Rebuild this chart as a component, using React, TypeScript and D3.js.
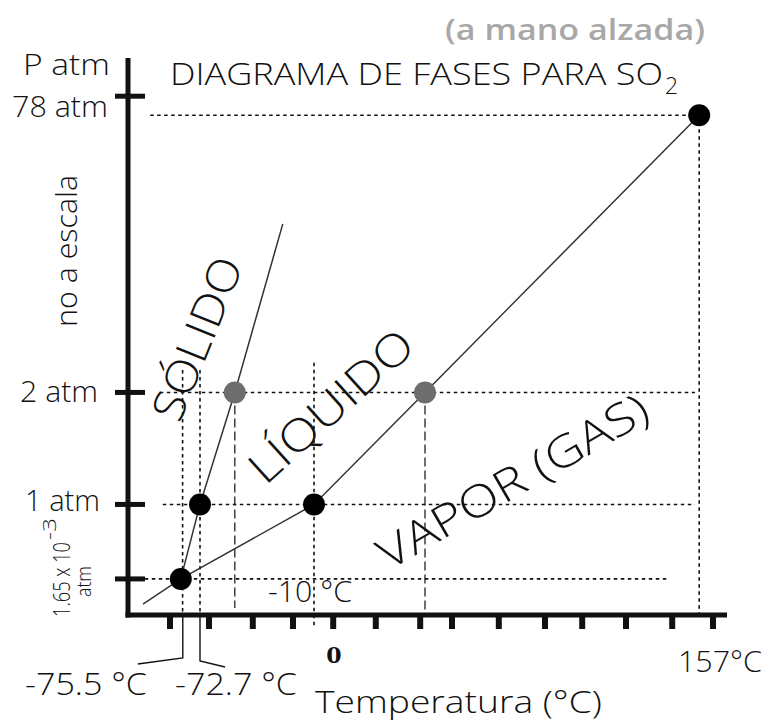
import React from "react";
import * as d3 from "d3";

// ---- Data (schematic units, diagram is "no a escala") ----
const xTickUnits = [7.0, 13.5, 20.8, 27.5, 34.2, 41.3, 48.7, 54.0, 61.8, 69.5, 75.7, 83.0, 90.7, 97.5];

const yTickLabels = ["1.65e-3", "1 atm", "2 atm", "78 atm"];
const yTickUnits = [6.8, 20.1, 40.1, 93.0];

const pointNames = ["triple", "fusion1", "fusion2", "ebull1", "ebull2", "critico"];
const pointX = [8.8, 12.0, 17.8, 31.0, 49.5, 95.2];
const pointY = [6.8, 20.1, 40.1, 20.1, 40.1, 89.6];
const pointGrey = [false, false, true, false, true, false];

// sublimation + vaporization curve
const vapCurveX = [2.5, 8.8, 31.0, 49.5, 95.2];
const vapCurveY = [2.3, 6.8, 20.1, 40.1, 89.6];
// fusion curve
const fusCurveX = [8.8, 12.0, 17.8, 25.8];
const fusCurveY = [6.8, 20.1, 40.1, 70.2];

// dotted horizontal guides: [level, from, to]
const hGuideLevel = [89.6, 40.1, 20.1, 6.8];
const hGuideFrom = [3.7, 5.3, 5.8, 2.8];
const hGuideTo = [95.2, 94.5, 94.5, 89.8];

// dotted vertical guides: [x, top, bottom]
const vGuideX = [95.2, 9.1, 12.0, 31.0];
const vGuideTop = [89.6, 44.1, 44.1, 45.4];
const vGuideBottom = [0, 0, 0, -1.8];

// dashed vertical guides
const dGuideX = [17.8, 49.5];
const dGuideTop = [40.1, 40.1];
const dGuideBottom = [1.6, 0];

const FONT = "'Open Sans', 'Noto Sans', sans-serif";

export default function App() {
  const W = 764, H = 725;
  const x = d3.scaleLinear().domain([0, 100]).range([128, 728]);
  const y = d3.scaleLinear().domain([0, 100]).range([617, 57]);
  const line = d3.line<[number, number]>().x(d => x(d[0])).y(d => y(d[1]));
  const vap = vapCurveX.map((v, i) => [v, vapCurveY[i]] as [number, number]);
  const fus = fusCurveX.map((v, i) => [v, fusCurveY[i]] as [number, number]);
  const axisY = y(0) - 2;

  return (
    <svg width={W} height={H} viewBox={`0 0 ${W} ${H}`}
      style={{ position: "absolute", left: 0, top: 0, background: "#fff" }}
      fontFamily={FONT} fontWeight={300} fill="#111">
      {/* guides */}
      {hGuideLevel.map((lv, i) => (
        <line key={"h" + i} x1={x(hGuideFrom[i])} x2={x(hGuideTo[i])} y1={y(lv)} y2={y(lv)}
          stroke="#111" strokeWidth={1.6} strokeDasharray="3.5 3.5" />
      ))}
      {vGuideX.map((vx, i) => (
        <line key={"v" + i} x1={x(vx)} x2={x(vx)} y1={y(vGuideTop[i])} y2={y(vGuideBottom[i])}
          stroke="#111" strokeWidth={1.6} strokeDasharray="3.5 3.5" />
      ))}
      {dGuideX.map((vx, i) => (
        <line key={"d" + i} x1={x(vx)} x2={x(vx)} y1={y(dGuideTop[i])} y2={y(dGuideBottom[i])}
          stroke="#222" strokeWidth={1.3} strokeDasharray="9 4" />
      ))}

      {/* leaders below axis */}
      <polyline points={`${x(pointX[0]) + 2},${axisY} ${x(pointX[0]) + 2},${axisY + 43} ${x(pointX[0]) - 43},${axisY + 49}`}
        fill="none" stroke="#111" strokeWidth={1.4} />
      <polyline points={`${x(pointX[1])},${axisY} ${x(pointX[1])},${axisY + 46} ${x(pointX[1]) + 25},${axisY + 52}`}
        fill="none" stroke="#111" strokeWidth={1.4} />

      {/* curves */}
      <path d={line(vap) || ""} fill="none" stroke="#333" strokeWidth={1.5} />
      <path d={line(fus) || ""} fill="none" stroke="#333" strokeWidth={1.5} />

      {/* axes */}
      <line x1={128} x2={128} y1={58} y2={axisY + 2.5} stroke="#111" strokeWidth={5} />
      <line x1={125.5} x2={727} y1={axisY} y2={axisY} stroke="#111" strokeWidth={5} />
      {xTickUnits.map((t, i) => (
        <line key={"xt" + i} x1={x(t)} x2={x(t)} y1={axisY} y2={axisY + 14} stroke="#111" strokeWidth={6} />
      ))}
      {yTickUnits.map((t, i) => (
        <line key={"yt" + i} x1={115} x2={145} y1={y(t)} y2={y(t)} stroke="#111" strokeWidth={5} />
      ))}

      {/* points */}
      {pointNames.map((n, i) => (
        <circle key={n} cx={x(pointX[i])} cy={y(pointY[i])} r={11}
          fill={pointGrey[i] ? "#6e6e6e" : "#000"} />
      ))}

      {/* y tick labels */}
      <text x={12} y={y(yTickUnits[3]) + 21} fontSize={29} textLength={96} lengthAdjust="spacingAndGlyphs">{yTickLabels[3]}</text>
      <text x={20} y={y(yTickUnits[2]) + 10} fontSize={29} textLength={78} lengthAdjust="spacingAndGlyphs">{yTickLabels[2]}</text>
      <text x={25} y={y(yTickUnits[1]) + 7} fontSize={29} textLength={75} lengthAdjust="spacingAndGlyphs">{yTickLabels[1]}</text>
      <g transform="translate(70,617) rotate(-90)">
        <text x={0} y={0} fontSize={23} textLength={75} lengthAdjust="spacingAndGlyphs">1.65 x 10</text>
        <text x={77} y={-14} fontSize={19} textLength={22} lengthAdjust="spacingAndGlyphs">-3</text>
        <text x={20} y={21} fontSize={20} textLength={31} lengthAdjust="spacingAndGlyphs">atm</text>
      </g>

      {/* axis titles */}
      <text x={23} y={75} fontSize={29} textLength={87} lengthAdjust="spacingAndGlyphs">P atm</text>
      <text transform="translate(77,251) rotate(-90)" textAnchor="middle" fontSize={29}
        textLength={152} lengthAdjust="spacingAndGlyphs">no a escala</text>
      <text x={315} y={713} fontSize={31} textLength={287} lengthAdjust="spacingAndGlyphs">Temperatura (°C)</text>

      {/* x labels */}
      <text x={25} y={695} fontSize={31} textLength={122} lengthAdjust="spacingAndGlyphs">-75.5 °C</text>
      <text x={175} y={695} fontSize={31} textLength={122} lengthAdjust="spacingAndGlyphs">-72.7 °C</text>
      <text x={268} y={602} fontSize={30} textLength={84} lengthAdjust="spacingAndGlyphs">-10 °C</text>
      <text x={334} y={663} fontSize={22} fontWeight="bold" fontFamily="'DejaVu Serif', 'Liberation Serif', serif" textAnchor="middle">0</text>
      <text x={678} y={672} fontSize={30} textLength={84} lengthAdjust="spacingAndGlyphs">157°C</text>

      {/* title */}
      <text x={445} y={40} fontSize={28} fontWeight={600} fill="#a8a8a8" textLength={260} lengthAdjust="spacingAndGlyphs">(a mano alzada)</text>
      <text x={170} y={85} fontSize={31} textLength={493} lengthAdjust="spacingAndGlyphs">DIAGRAMA DE FASES PARA SO</text>
      <text x={665} y={94} fontSize={23}>2</text>

      {/* phase labels */}
      <text transform="translate(196,338) rotate(-68)" textAnchor="middle" dominantBaseline="central"
        fontSize={44} fontWeight={300} textLength={172} lengthAdjust="spacingAndGlyphs">SÓLIDO</text>
      <text transform="translate(330,405) rotate(-42)" textAnchor="middle" dominantBaseline="central"
        fontSize={44} fontWeight={300} textLength={205} lengthAdjust="spacingAndGlyphs">LÍQUIDO</text>
      <text transform="translate(512,480) rotate(-30)" textAnchor="middle" dominantBaseline="central"
        fontSize={44} fontWeight={300} textLength={305} lengthAdjust="spacingAndGlyphs">VAPOR (GAS)</text>
    </svg>
  );
}
